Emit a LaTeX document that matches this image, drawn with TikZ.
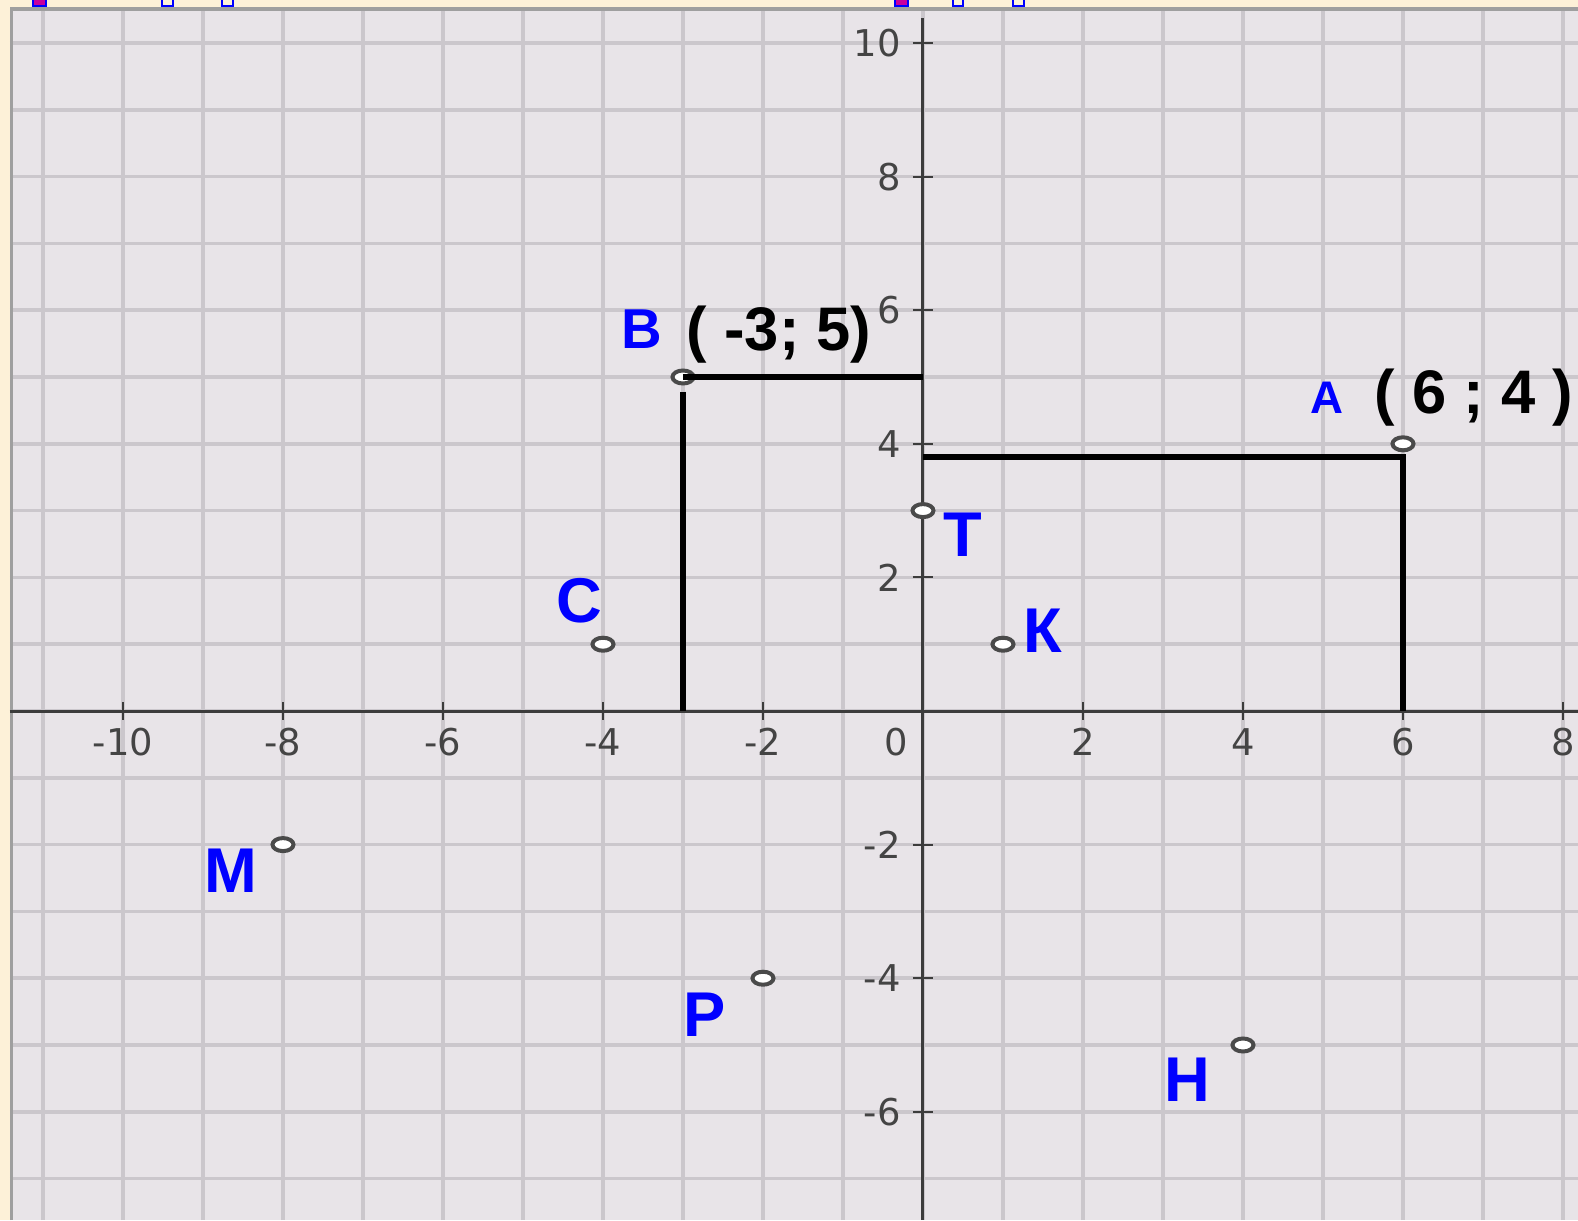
\documentclass[tikz,border=0pt]{standalone}
\usepackage{fontspec}
\setmainfont{Liberation Sans}
\newfontfamily\axisfont{DejaVu Sans}
\usepackage{tikz}
\usetikzlibrary{shapes.geometric}
\definecolor{kremFon}{HTML}{FDF1D8}
\definecolor{kagitGri}{HTML}{E8E4E8}
\definecolor{cizgiGri}{HTML}{CBC7CC}
\definecolor{eksenGri}{HTML}{3C3C3C}
\definecolor{yaziGri}{HTML}{444444}
\definecolor{noktaGri}{HTML}{4A4A4A}
\definecolor{harfMavi}{HTML}{0000FF}
\definecolor{parcaMor}{HTML}{C8009C}

\begin{document}
\begin{tikzpicture}[x=0.8cm, y=0.668cm,
  gridline/.style={cizgiGri, line width=0.035cm},
  axisline/.style={eksenGri, line width=0.03cm},
  pnt/.style={ellipse, draw=noktaGri, fill=white, line width=0.04cm, minimum width=0.21cm, minimum height=0.13cm, inner sep=0pt},
  harf/.style={text=harfMavi, inner sep=0pt, anchor=base, font=\bfseries\fontsize{18}{18}\selectfont},
  koord/.style={inner sep=0pt, anchor=base west, font=\bfseries\fontsize{17.5}{17.5}\selectfont},
  ticklbl/.style={text=yaziGri, inner sep=0pt, font=\axisfont\fontsize{10.5}{10.5}\selectfont},
  guide/.style={black, line width=0.06cm}]
\useasboundingbox (-11.5375,-7.6198) rectangle (8.1875,10.6437);
\fill[kremFon] (-11.5375,-7.6198) rectangle (8.1875,10.6437);
% bits of the cut-off title
\filldraw[fill=parcaMor, draw=harfMavi, line width=0.02cm] (-11.125,10.554) rectangle (-10.9625,10.66);
\draw[harfMavi, line width=0.02cm] (-9.5125,10.554) rectangle (-9.375,10.66);
\draw[harfMavi, line width=0.02cm] (-8.7625,10.554) rectangle (-8.625,10.66);
\filldraw[fill=parcaMor, draw=harfMavi, line width=0.02cm] (-0.35,10.554) rectangle (-0.1875,10.66);
\draw[harfMavi, line width=0.02cm] (0.375,10.554) rectangle (0.5,10.66);
\draw[harfMavi, line width=0.02cm] (1.125,10.554) rectangle (1.2625,10.66);
% paper
\fill[kagitGri] (-11.4125,-7.6198) rectangle (8.1875,10.524);
\foreach \x in {-11,...,8} \draw[gridline] (\x,-7.6198) -- (\x,10.524);
\foreach \y in {-7,...,10} \draw[gridline] (-11.4125,\y) -- (8.1875,\y);
\draw[gray!75, line width=0.035cm] (-11.395,-7.6198) -- (-11.395,10.51) -- (8.1875,10.51);
% axes
\draw[axisline] (-11.4125,0) -- (8.1875,0);
\draw[axisline] (0,10.37) -- (0,-7.6198);
\foreach \x in {-10,-8,-6,-4,-2,2,4,6,8} {
  \draw[axisline, line width=0.02cm] (\x,0) +(0,0.09cm) -- +(0,-0.09cm);
  \node[ticklbl] (xt\x) at (\x,-0.464) {\x};
}
\node[ticklbl] (xt0) at (-0.34,-0.464) {0};
\foreach \y in {10,8,6,4,2,-2,-4,-6} {
  \draw[axisline, line width=0.02cm] (0,\y) +(-0.1cm,0) -- +(0.1cm,0);
  \node[ticklbl, anchor=east] (yt\y) at (-0.27,\y) {\y};
}
% points
\node[pnt] (B) at (-3,5) {};
\node[pnt] (A) at (6,4) {};
\node[pnt] (T) at (0,3) {};
\node[pnt] (C) at (-4,1) {};
\node[pnt] (K) at (1,1) {};
\node[pnt] (M) at (-8,-2) {};
\node[pnt] (P) at (-2,-4) {};
\node[pnt] (H) at (4,-5) {};
% projections
\coordinate (By) at (0,5);
\coordinate (Bv) at (-3,4.78);
\coordinate (Bx) at (-3,0);
\coordinate (Ay) at (0,3.8);
\coordinate (Ac) at (6,3.8);
\coordinate (Ax) at (6,0);
\draw[guide] (B.center) -- (By);
\draw[guide] (Bv) -- (Bx);
\draw[guide] (Ay) -- (Ac) -- (Ax);
% labels
\node[harf, font=\bfseries\fontsize{16}{16}\selectfont] (Blbl) at (-3.51,5.43) {В};
\node[koord] (Bkoord) at (-2.96,5.40) {( -3; 5)};
\node[harf, font=\bfseries\fontsize{13}{13}\selectfont] (Albl) at (5.05,4.46) {А};
\node[koord] (Akoord) at (5.64,4.46) {( 6 ; 4 )};
\node[harf] (Tlbl) at (0.5,2.31) {Т};
\node[harf] (Klbl) at (1.5,0.87) {К};
\node[harf] (Clbl) at (-4.3,1.33) {С};
\node[harf] (Mlbl) at (-8.65,-2.72) {М};
\node[harf] (Plbl) at (-2.725,-4.87) {Р};
\node[harf] (Hlbl) at (3.3,-5.85) {Н};
\end{tikzpicture}
\end{document}
